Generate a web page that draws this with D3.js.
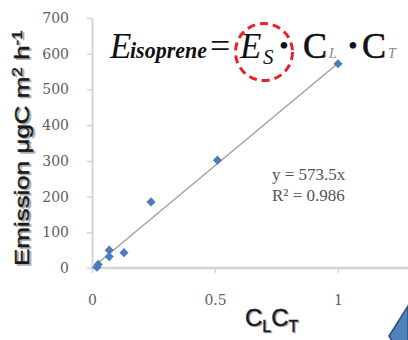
<!DOCTYPE html>
<html>
<head>
<meta charset="utf-8">
<script src="https://cdn.jsdelivr.net/npm/d3@7"></script>
<style>
  html, body { margin: 0; padding: 0; background: #fff; }
  svg { display: block; }
</style>
</head>
<body>
<svg id="chart" width="408" height="340"></svg>
<script>
// ---- data ----
const xValues = [1.0, 0.51, 0.24, 0.13, 0.07, 0.07, 0.02, 0.025];
const yValues = [572, 302, 185, 43, 50, 32, 2, 10];
const slope = 573.5;
const trendX = [0, 1];
const xTicks = [0, 0.5, 1];
const yTicks = [0, 100, 200, 300, 400, 500, 600, 700];
const eqLabel = "y = 573.5x";
const r2Label = "R² = 0.986";

const W = 408, H = 340;
const svg = d3.select("#chart");

const x = d3.scaleLinear().domain([0, 1]).range([92, 338]);
const y = d3.scaleLinear().domain([0, 700]).range([268, 18]);

const axisColor = "#d4d4d4";
const labelColor = "#606060";

// y axis
const yAxis = svg.append("g").attr("transform", `translate(${x(0)},0)`)
  .call(d3.axisLeft(y).tickValues(yTicks).tickSize(5).tickSizeOuter(0).tickPadding(18).tickFormat(d3.format("d")));
yAxis.select(".domain").attr("stroke", axisColor).attr("stroke-width", 2);
yAxis.selectAll(".tick line").attr("stroke", axisColor).attr("stroke-width", 1.5);
yAxis.selectAll(".tick text").attr("fill", labelColor).attr("font-family", "DejaVu Serif").attr("font-size", 14);

// x axis
const xAxis = svg.append("g").attr("transform", `translate(0,${y(0)})`)
  .call(d3.axisBottom(x).tickValues(xTicks).tickSize(5).tickSizeOuter(0).tickPadding(22).tickFormat(d3.format("")));
xAxis.select(".domain").remove();
xAxis.append("line").attr("x1", x(0) - 1).attr("x2", W).attr("y1", 0).attr("y2", 0)
  .attr("stroke", axisColor).attr("stroke-width", 2.5);
xAxis.selectAll(".tick line").attr("stroke", axisColor).attr("stroke-width", 1.5);
xAxis.selectAll(".tick text").attr("fill", labelColor).attr("font-family", "DejaVu Serif").attr("font-size", 14);

// trend line
svg.append("line")
  .attr("x1", x(trendX[0])).attr("y1", y(slope * trendX[0]))
  .attr("x2", x(trendX[1])).attr("y2", y(slope * trendX[1]))
  .attr("stroke", "#9a9a9a").attr("stroke-width", 1.2);

// points
const pts = xValues.map((v, i) => ({ x: v, y: yValues[i] }));
svg.append("g").selectAll("path").data(pts).join("path")
  .attr("d", d3.symbol(d3.symbolSquare, 42)())
  .attr("transform", d => `translate(${x(d.x)},${y(d.y)}) rotate(45)`)
  .attr("fill", "#4a7ebb");

// equation text
svg.append("text").attr("x", 272).attr("y", 180).text(eqLabel)
  .attr("font-family", "Liberation Serif").attr("font-size", 17).attr("fill", "#555");
svg.append("text").attr("x", 272).attr("y", 201).text(r2Label)
  .attr("font-family", "Liberation Serif").attr("font-size", 17).attr("fill", "#555");

// formula
const f = svg.append("g").attr("font-family", "Liberation Serif").attr("fill", "#111");
f.append("text").attr("x", 110).attr("y", 58).attr("font-size", 35).attr("font-style", "italic").text("E");
f.append("text").attr("x", 130).attr("y", 58).attr("font-size", 23).attr("font-style", "italic")
  .attr("font-weight", "bold").attr("textLength", 77).attr("lengthAdjust", "spacingAndGlyphs").text("isoprene");
f.append("text").attr("x", 210).attr("y", 58).attr("font-size", 36).text("=");
f.append("text").attr("x", 240).attr("y", 58).attr("font-size", 35).attr("font-style", "italic").text("E");
f.append("text").attr("x", 263).attr("y", 64).attr("font-size", 21).attr("font-style", "italic").text("S");
f.append("text").attr("x", 279).attr("y", 55).attr("font-size", 28).text("•");
f.append("text").attr("x", 303).attr("y", 58).attr("font-size", 36).attr("stroke", "#111").attr("stroke-width", 0.6).text("C");
f.append("text").attr("x", 329).attr("y", 58).attr("font-size", 14).attr("font-style", "italic").attr("fill", "#888").text("L");
f.append("text").attr("x", 348).attr("y", 55).attr("font-size", 28).text("•");
f.append("text").attr("x", 362).attr("y", 58).attr("font-size", 36).attr("stroke", "#111").attr("stroke-width", 0.6).text("C");
f.append("text").attr("x", 388).attr("y", 58).attr("font-size", 14).attr("font-style", "italic").attr("fill", "#888").text("T");

svg.append("circle").attr("cx", 264).attr("cy", 52).attr("r", 28.5)
  .attr("fill", "none").attr("stroke", "#e8202a").attr("stroke-width", 3)
  .attr("stroke-dasharray", "8,5");

// y axis label (with soft shadow)
function yLabel(dx, dy, color) {
  const t = svg.append("text")
    .attr("transform", `translate(${29 + dx},${148 + dy}) rotate(-90)`)
    .attr("text-anchor", "middle")
    .attr("font-family", "Liberation Sans").attr("font-size", 21)
    .attr("fill", color).attr("stroke", color).attr("stroke-width", 0.4)
    .attr("textLength", 236).attr("lengthAdjust", "spacingAndGlyphs");
  t.append("tspan").text("Emission μgC m");
  t.append("tspan").attr("dy", -7).attr("font-size", 14).text("2");
  t.append("tspan").attr("dy", 7).text(" h");
  t.append("tspan").attr("dy", -7).attr("font-size", 14).text("-1");
}
yLabel(1.5, 1.5, "#aaa");
yLabel(0, 0, "#1a1a1a");

// x axis label
function xLabel(dx, dy, color) {
  const t = svg.append("text").attr("x", 245 + dx).attr("y", 326 + dy)
    .attr("font-family", "Liberation Sans").attr("font-size", 24)
    .attr("fill", color).attr("stroke", color).attr("stroke-width", 0.4);
  t.append("tspan").text("C");
  t.append("tspan").attr("dy", 6).attr("font-size", 16).text("L");
  t.append("tspan").attr("dy", -6).text("C");
  t.append("tspan").attr("dy", 6).attr("font-size", 16).text("T");
}
xLabel(1.2, 1.2, "#aaa");
xLabel(0, 0, "#1a1a1a");

// decorative arrow corner (bottom right)
svg.append("path")
  .attr("d", "M408,306 L389,336 L392,341 L408,341 Z")
  .attr("fill", "#4f81bd").attr("stroke", "#2c4f7c").attr("stroke-width", 1.5);
</script>
</body>
</html>
